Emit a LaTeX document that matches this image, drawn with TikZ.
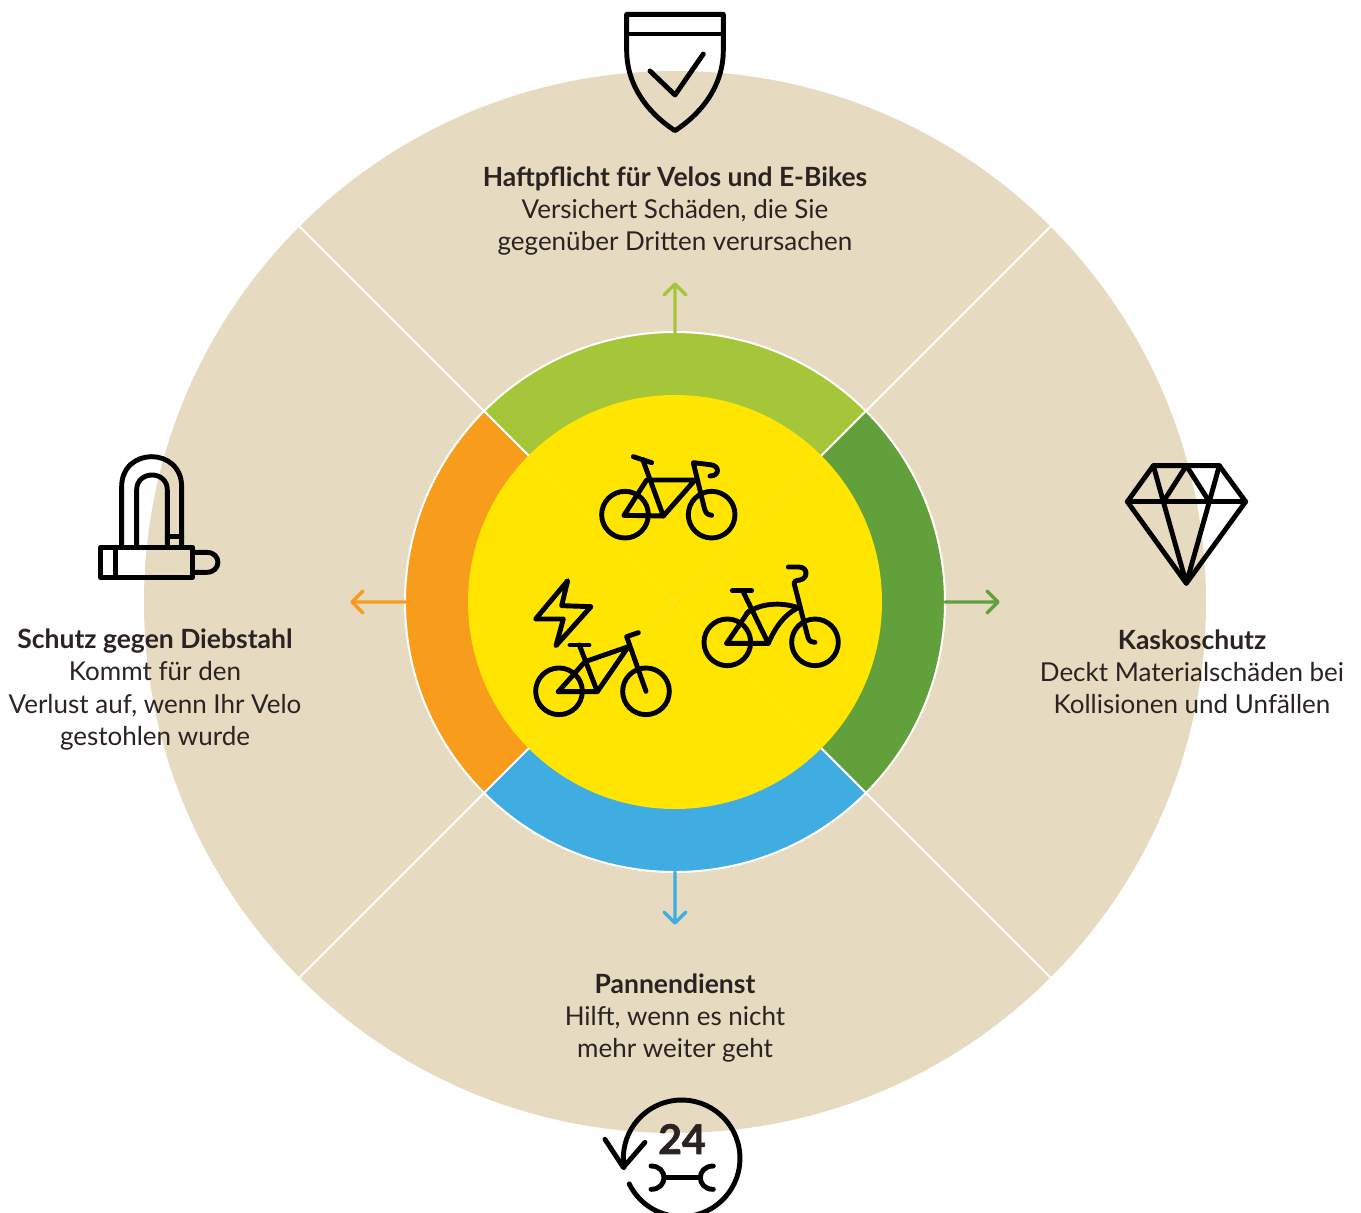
\documentclass[tikz,border=0pt]{standalone}
\usepackage{fontspec}
\usetikzlibrary{calc}
\setmainfont{Lato}
\definecolor{beige}{HTML}{E6DAC0}
\definecolor{lime}{HTML}{A6C639}
\definecolor{leaf}{HTML}{62A03B}
\definecolor{sky}{HTML}{3FADE2}
\definecolor{amber}{HTML}{F89C1C}
\definecolor{sun}{HTML}{FFE500}
\definecolor{ink}{HTML}{2A2321}
\newcommand{\hd}[1]{{\fontsize{26.5}{32.3}\selectfont\bfseries #1}}
\tikzset{
 lab/.style={font=\fontsize{26}{32.3}\selectfont,text=ink,align=center,inner sep=0pt},
 ico/.style={draw=black,line width=4.9pt,line cap=round,line join=round},
 flow/.style={line width=3.4pt,line cap=round,line join=round},
 sep/.style={draw=white,line width=2pt},
}
\begin{document}
\begin{tikzpicture}[x=1pt,y=-1pt]
\useasboundingbox (0,0) rectangle (1361,1213);
\clip (0,0) rectangle (1361,1213);
\coordinate (c) at (675,602);
\fill[beige] (c) circle (531);
% spokes
\foreach \a/\n in {45/se,135/sw,225/nw,315/ne}{
 \coordinate (i\n) at ($(c)+(\a:207)$);
 \coordinate (m\n) at ($(c)+(\a:270)$);
 \coordinate (o\n) at ($(c)+(\a:531)$);
 \draw[sep] (m\n) -- (o\n);
}
% ring sectors
\fill[lime,draw=white,line width=2pt] (inw) -- (mnw) arc (225:315:270) -- (ine) -- cycle;
\fill[leaf,draw=white,line width=2pt] (ine) -- (mne) arc (315:405:270) -- (ise) -- cycle;
\fill[sky,draw=white,line width=2pt] (ise) -- (mse) arc (45:135:270) -- (isw) -- cycle;
\fill[amber,draw=white,line width=2pt] (isw) -- (msw) arc (135:225:270) -- (inw) -- cycle;
\fill[sun] (c) circle (207);
\draw[white!18!sun,line width=.7pt] (inw) -- (ise) (isw) -- (ine);
% arrows
\coordinate (atop) at (675,333); \coordinate (ttop) at (675,284);
\coordinate (art) at (945,602); \coordinate (trt) at (998,602);
\coordinate (abt) at (675,872); \coordinate (tbt) at (675,923);
\coordinate (alf) at (406,602); \coordinate (tlf) at (352,602);
\draw[flow,lime] (atop) -- (ttop) ++(-11,11) -- (ttop) -- ++(11,11);
\draw[flow,leaf] (art) -- (trt) ++(-11,-11) -- (trt) -- ++(-11,11);
\draw[flow,sky] (abt) -- (tbt) ++(-11,-11) -- (tbt) -- ++(11,-11);
\draw[flow,amber] (alf) -- (tlf) ++(11,-11) -- (tlf) -- ++(11,11);
% texts
\node[lab] (t1) at (675,211.2) {\hd{Haftpflicht für Velos und E-Bikes}\\Versichert Schäden, die Sie\\gegenüber Dritten verursachen};
\node[lab] (t2) at (1192,671.7) {\hd{Kaskoschutz}\\Deckt Materialschäden bei\\Kollisionen und Unfällen};
\node[lab] (t3) at (675,1018.2) {\hd{Pannendienst}\\Hilft, wenn es nicht\\mehr weiter geht};
\node[lab] (t4) at (155,689.5) {\hd{Schutz gegen Diebstahl}\\Kommt für den\\Verlust auf, wenn Ihr Velo\\gestohlen wurde};
% bikes
\begin{scope}[shift={(520,440)},x=.3333pt,y=-.3333pt]
 % bike 1
 \draw[ico] (315,224) circle (70); \draw[ico] (575,224) circle (70);
 \draw[ico] (312,226) -- (430,228) -- (525,120) -- (380,120) -- (312,226);
 \draw[ico] (430,228) -- (368,58);
 \draw[ico] (340,50) -- (395,68);
 \draw[ico] (575,226) .. controls (558,224) and (556,215) .. (552,200) -- (520,68) -- (570,74) .. controls (600,76) and (600,108) .. (570,108);
 % bike 3
 \draw[ico] (622,607) circle (70); \draw[ico] (885,607) circle (70);
 \draw[ico] (620,610) -- (745,610) -- (668,452);
 \draw[ico] (637,452) -- (695,452);
 \draw[ico] (620,610) -- (685,515);
 \draw[ico] (680,520) .. controls (720,490) and (780,485) .. (835,503);
 \draw[ico] (745,610) .. controls (765,565) and (790,525) .. (835,503);
 \draw[ico] (885,607) .. controls (868,606) and (866,600) .. (862,585) -- (825,440) .. controls (818,420) and (830,422) .. (840,420) .. controls (865,415) and (865,380) .. (835,381) -- (805,381);
 % e-bike
 \draw[ico] (117,754) circle (70); \draw[ico] (378,754) circle (70);
 \draw[ico] (115,755) -- (232,755) -- (178,615);
 \draw[ico] (150,615) -- (207,615);
 \draw[ico] (115,755) -- (195,665) -- (325,620) -- (232,755);
 \draw[ico] (378,754) -- (320,590) -- (355,578);
 \draw[ico] (143,422) -- (47,537) -- (130,537) -- (108,617) -- (213,500) -- (125,497) -- cycle;
\end{scope}
% shield
\begin{scope}[shift={(580,0)},x=.3333pt,y=-.3333pt]
 \draw[ico] (140,43) -- (430,43) -- (430,150) .. controls (430,270) and (350,350) .. (285,392) .. controls (220,350) and (140,270) .. (140,150) -- cycle;
 \draw[ico,line cap=butt] (140,102) -- (430,102);
 \draw[ico] (210,213) -- (285,285) -- (370,162);
\end{scope}
% lock
\begin{scope}[shift={(80,440)},x=.3333pt,y=-.3333pt]
 \draw[ico] (62,322) rectangle (338,412);
 \draw[ico] (107,322) -- (107,412);
 \draw[ico] (338,337) -- (380,337) .. controls (425,337) and (425,397) .. (380,397) -- (338,397);
 \draw[ico] (125,322) -- (125,140) .. controls (125,20) and (305,20) .. (305,140) -- (305,322);
 \draw[ico] (170,322) -- (170,150) .. controls (170,90) and (262,90) .. (262,150) -- (262,322);
 \draw[ico] (262,290) -- (305,290);
\end{scope}
% diamond
\begin{scope}[shift={(1110,450)},x=.3333pt,y=-.3333pt]
 \draw[ico] (130,47) -- (328,47) -- (407,155) -- (229,400) -- (52,155) -- cycle;
 \draw[ico] (52,155) -- (407,155);
 \draw[ico] (130,47) -- (160,155) -- (229,400) -- (298,155) -- (328,47);
 \draw[ico] (160,155) -- (229,47) -- (298,155);
\end{scope}
% 24
\begin{scope}[shift={(590,1090)},x=.3333pt,y=-.3333pt]
 \coordinate (rc) at (275,205);
 \draw[ico] ($(rc)+(171:175)$) arc (171:514:175);
 \draw[ico] (45,148) -- (100,232) -- (165,157);
 \draw[ico] (225,263) -- (330,263);
 \draw[ico] (183,228) .. controls (235,228) and (235,298) .. (183,298);
 \draw[ico] (370,228) .. controls (318,228) and (318,298) .. (370,298);
\end{scope}
\node[font=\fontsize{41}{41}\selectfont\bfseries\addfontfeatures{FakeBold=1.5},text=ink,inner sep=0pt] (n24) at (682,1139) {24};
\end{tikzpicture}
\end{document}
